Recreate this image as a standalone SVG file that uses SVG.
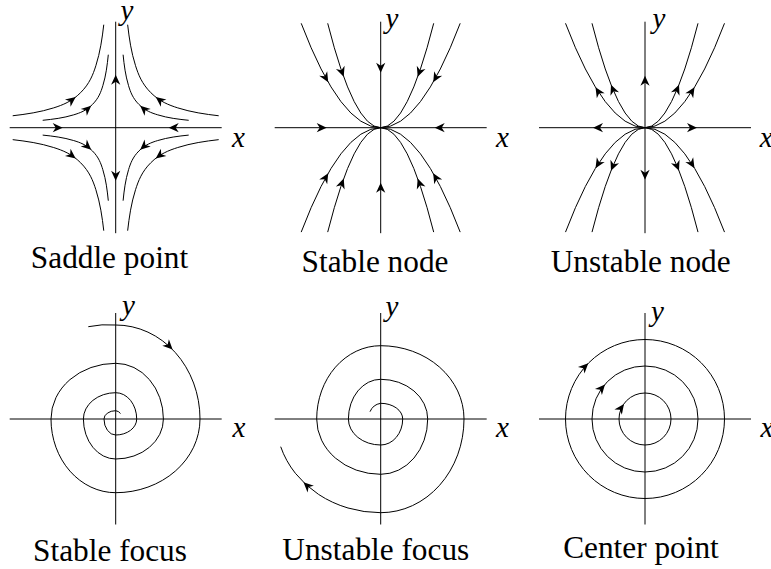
<svg xmlns="http://www.w3.org/2000/svg" width="771" height="569" viewBox="0 0 771 569">
<defs>
  <path id="ah" d="M0 0 L-10 -4.6 L-7 0 L-10 4.6 Z" fill="#000" stroke="none"/>
  <path id="axes" d="M-106 0 H106 M0 -106 V105.5" fill="none" stroke="#000" stroke-width="1"/>
  <g id="sq">
    <path fill="none" stroke="#000" stroke-width="1" d="M-103 -11.942 C-89.333 -13.527 -75.667 -15.466 -62 -19.839 C-53.023 -22.711 -44.047 -26.093 -35.07 -35.07 C-26.093 -44.047 -22.711 -53.023 -19.839 -62 C-15.466 -75.667 -13.527 -89.333 -11.942 -103"/>
    <path fill="none" stroke="#000" stroke-width="1" d="M-73 -7.397 C-62.667 -8.444 -52.333 -9.694 -42 -12.857 C-35.747 -14.771 -29.493 -16.987 -23.24 -23.24 C-16.987 -29.493 -14.771 -35.747 -12.857 -42 C-9.694 -52.333 -8.444 -62.667 -7.397 -73"/>
    <use href="#ah" transform="translate(-40 -30.7) rotate(-37.5)"/>
    <use href="#ah" transform="translate(-24.5 -22) rotate(-41.9)"/>
  </g>
  <g id="nq">
    <path fill="none" stroke="#000" stroke-width="1" d="M0 0 Q-39.75 0 -79.5 -104.4"/>
    <path fill="none" stroke="#000" stroke-width="1" d="M0 0 Q-26.5 0 -53 -104.4"/>
  </g>
  <g id="snA">
    <use href="#ah" transform="translate(-52.5 -45.5) rotate(60)"/>
    <use href="#ah" transform="translate(-37 -50.9) rotate(70)"/>
  </g>
  <g id="unA">
    <use href="#ah" transform="translate(-49.5 -40.5) rotate(-121.7)"/>
    <use href="#ah" transform="translate(-34 -43) rotate(-111.9)"/>
  </g>
</defs>
<rect width="771" height="569" fill="#fff"/>

<g id="saddle-point">
  <g transform="translate(115.7 127.7)">
    <use href="#axes"/>
    <use href="#sq"/>
    <use href="#sq" transform="scale(-1 1)"/>
    <use href="#sq" transform="scale(1 -1)"/>
    <use href="#sq" transform="scale(-1 -1)"/>
    <use href="#ah" transform="translate(-53 0)"/>
    <use href="#ah" transform="translate(53 0) rotate(180)"/>
    <use href="#ah" transform="translate(0 -53) rotate(-90)"/>
    <use href="#ah" transform="translate(0 53) rotate(90)"/>
  </g>
  <text x="120.5" y="20" font-family="Liberation Serif" font-style="italic" font-size="29">y</text>
  <text x="232" y="146.5" font-family="Liberation Serif" font-style="italic" font-size="29">x</text>
  <text x="109.5" y="268" font-family="Liberation Serif" font-size="31.3" text-anchor="middle">Saddle point</text>
</g>

<g id="stable-node">
  <g transform="translate(380.7 127.7)">
    <use href="#axes"/>
    <use href="#nq"/>
    <use href="#nq" transform="scale(-1 1)"/>
    <use href="#nq" transform="scale(1 -1)"/>
    <use href="#nq" transform="scale(-1 -1)"/>
    <use href="#snA"/>
    <use href="#snA" transform="scale(-1 1)"/>
    <use href="#snA" transform="scale(1 -1)"/>
    <use href="#snA" transform="scale(-1 -1)"/>
    <use href="#ah" transform="translate(-54 0)"/>
    <use href="#ah" transform="translate(54 0) rotate(180)"/>
    <use href="#ah" transform="translate(0 -55) rotate(90)"/>
    <use href="#ah" transform="translate(0 55) rotate(-90)"/>
  </g>
  <text x="385.5" y="28.3" font-family="Liberation Serif" font-style="italic" font-size="29">y</text>
  <text x="496" y="146.5" font-family="Liberation Serif" font-style="italic" font-size="29">x</text>
  <text x="375" y="271.5" font-family="Liberation Serif" font-size="31.3" text-anchor="middle">Stable node</text>
</g>

<g id="unstable-node">
  <g transform="translate(645 127.7)">
    <use href="#axes"/>
    <use href="#nq"/>
    <use href="#nq" transform="scale(-1 1)"/>
    <use href="#nq" transform="scale(1 -1)"/>
    <use href="#nq" transform="scale(-1 -1)"/>
    <use href="#unA"/>
    <use href="#unA" transform="scale(-1 1)"/>
    <use href="#unA" transform="scale(1 -1)"/>
    <use href="#unA" transform="scale(-1 -1)"/>
    <use href="#ah" transform="translate(-52 0) rotate(180)"/>
    <use href="#ah" transform="translate(52 0)"/>
    <use href="#ah" transform="translate(0 -52) rotate(-90)"/>
    <use href="#ah" transform="translate(0 52) rotate(90)"/>
  </g>
  <text x="652.5" y="28.3" font-family="Liberation Serif" font-style="italic" font-size="29">y</text>
  <text x="759.7" y="146.5" font-family="Liberation Serif" font-style="italic" font-size="29">x</text>
  <text x="640.7" y="271.5" font-family="Liberation Serif" font-size="31.3" text-anchor="middle">Unstable node</text>
</g>

<g id="stable-focus">
  <use href="#axes" transform="translate(115.7 419)"/>
  <path fill="none" stroke="#000" stroke-width="1" d="M88.3 326.7 A95 95 0 0 1 115.7 325 A84.3 94 0 0 1 200 419 A84.3 73.7 0 0 1 115.7 492.7 A64.7 73.7 0 0 1 51 419 A64.7 55.7 0 0 1 115.7 363.3 A47.7 55.7 0 0 1 163.4 419 A47.7 40 0 0 1 115.7 459 A32.3 40 0 0 1 83.4 419 A32.3 26.3 0 0 1 115.7 392.7 A21 26.3 0 0 1 136.7 419 A21 16 0 0 1 115.7 435 A11.7 16 0 0 1 104 419 A11.7 8.3 0 0 1 115.7 410.7 A7 7 0 0 1 120.5 413.5"/>
  <use href="#ah" transform="translate(172.6 349.6) rotate(45.5)"/>
  <text x="122" y="315" font-family="Liberation Serif" font-style="italic" font-size="29">y</text>
  <text x="232.5" y="436.5" font-family="Liberation Serif" font-style="italic" font-size="29">x</text>
  <text x="110" y="561" font-family="Liberation Serif" font-size="31.3" text-anchor="middle">Stable focus</text>
</g>

<g id="unstable-focus">
  <use href="#axes" transform="translate(380.7 419)"/>
  <path fill="none" stroke="#000" stroke-width="1" d="M370 411.7 A14 14 0 0 1 380.7 403.3 A22 15.7 0 0 1 402.7 419 A22 26 0 0 1 380.7 445 A32.3 26 0 0 1 348.4 419 A32.3 39.7 0 0 1 380.7 379.3 A47 39.7 0 0 1 427.7 419 A47 55.3 0 0 1 380.7 474.3 A64 55.3 0 0 1 316.7 419 A64 73.3 0 0 1 380.7 345.7 A83.3 73.3 0 0 1 464 419 A83.3 93.7 0 0 1 380.7 512.7 A104.7 93.7 0 0 1 280.7 446.7"/>
  <use href="#ah" transform="translate(303.5 482.3) rotate(-136.5)"/>
  <text x="385.5" y="315.5" font-family="Liberation Serif" font-style="italic" font-size="29">y</text>
  <text x="496" y="436.5" font-family="Liberation Serif" font-style="italic" font-size="29">x</text>
  <text x="375.8" y="560" font-family="Liberation Serif" font-size="31.3" text-anchor="middle">Unstable focus</text>
</g>

<g id="center-point">
  <use href="#axes" transform="translate(645 419)"/>
  <g fill="none" stroke="#000" stroke-width="1">
    <circle cx="645" cy="419" r="26"/>
    <circle cx="645" cy="419" r="53"/>
    <circle cx="645" cy="419" r="79.5"/>
  </g>
  <use href="#ah" transform="translate(588.3 363.3) rotate(-45)"/>
  <use href="#ah" transform="translate(605 384.5) rotate(-49)"/>
  <use href="#ah" transform="translate(624 404) rotate(-54)"/>
  <text x="651" y="320.5" font-family="Liberation Serif" font-style="italic" font-size="29">y</text>
  <text x="760.5" y="436.5" font-family="Liberation Serif" font-style="italic" font-size="29">x</text>
  <text x="641" y="558" font-family="Liberation Serif" font-size="31.3" text-anchor="middle">Center point</text>
</g>
</svg>
